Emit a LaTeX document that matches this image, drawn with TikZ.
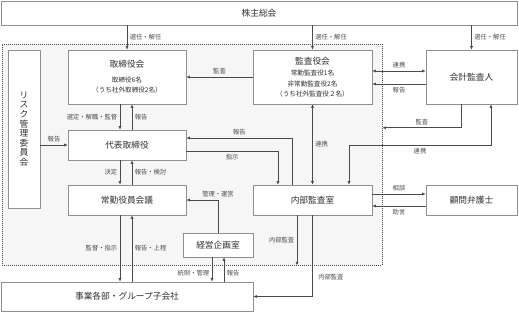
\documentclass[tikz,border=0pt]{standalone}
\usepackage{fontspec}
\setmainfont{Noto Sans CJK JP}
\usepackage{xcolor}
\usepackage{tikz}
\usetikzlibrary{arrows.meta, positioning, calc}

\definecolor{linegray}{HTML}{4A4A4A}
\definecolor{boxgray}{HTML}{8F8F8F}
\definecolor{textgray}{HTML}{2E2E2E}
\definecolor{zonegray}{HTML}{F6F6F6}

\begin{document}
\begin{tikzpicture}[
    x=1pt, y=-1pt,
    box/.style={rectangle, draw=boxgray, line width=0.6pt, fill=white, text=textgray, align=center, inner sep=0pt, font=\fontsize{8.7}{10}\selectfont},
    subbox/.style={box, font=\fontsize{6.6}{10.5}\selectfont},
    zone/.style={rectangle, draw=linegray, line width=0.8pt, dash pattern=on 1pt off 1pt, fill=zonegray},
    arr/.style={draw=linegray, line width=0.6pt, -{Latex[length=3.5pt,width=3pt]}},
    arrboth/.style={draw=linegray, line width=0.6pt, {Latex[length=3.5pt,width=3pt]}-{Latex[length=3.5pt,width=3pt]}},
    lbl/.style={font=\fontsize{6.3}{7}\selectfont, text=textgray!85, inner sep=2.5pt}
]
\fill[white] (0,0) rectangle (519,312);
\useasboundingbox (0,0) rectangle (519,312);

% company area
\node[zone, minimum width=380pt, minimum height=221pt] (company) at (192,154.5) {};

% boxes
\node[box, minimum width=516pt, minimum height=24pt] (share) at (259,13) {株主総会};
\node[subbox, minimum width=118pt, minimum height=54pt] (board) at (127,77)
    {{\fontsize{8.7}{10}\selectfont 取締役会}\\[4pt]取締役6名\\（うち社外取締役2名）};
\node[subbox, minimum width=119pt, minimum height=54pt] (audit) at (312.5,77)
    {{\fontsize{8.7}{10}\selectfont 監査役会}\\[1pt]常勤監査役1名\\非常勤監査役2名\\（うち社外監査役２名）};
\node[box, minimum width=91pt, minimum height=54pt] (acct) at (471.5,77) {会計監査人};
\node[box, minimum width=32pt, minimum height=158pt, font=\fontsize{8.7}{9.6}\selectfont] (risk) at (24,129)
    {リ\\ス\\ク\\管\\理\\委\\員\\会};
\node[box, minimum width=118pt, minimum height=30pt] (ceo) at (127,145) {代表取締役};
\node[box, minimum width=118pt, minimum height=30pt] (exec) at (127,200) {常勤役員会議};
\node[box, minimum width=119pt, minimum height=30pt] (inaud) at (312.5,200) {内部監査室};
\node[box, minimum width=91pt, minimum height=30pt] (lawyer) at (471.5,200) {顧問弁護士};
\node[box, minimum width=70pt, minimum height=24pt] (plan) at (218,245) {経営企画室};
\node[box, minimum width=252pt, minimum height=29pt] (biz) at (127,296.5) {事業各部・グループ子会社};

% shareholders
\draw[arr] (share.south -| board.north) -- (board.north) node[lbl, midway, right] {選任・解任};
\draw[arr] (share.south -| audit.north) -- (audit.north) node[lbl, midway, right] {選任・解任};
\draw[arr] (share.south -| acct.north) -- (acct.north) node[lbl, midway, right] {選任・解任};

% audit board
\draw[arr] (audit.west) -- (board.east) node[lbl, midway, above] {監査};
\draw[arrboth] ([yshift=6pt]audit.east) -- ([yshift=6pt]acct.west) node[lbl, midway, above] {連携};
\draw[arr] ([yshift=-7pt]acct.west) -- ([yshift=-7pt]audit.east) node[lbl, midway, below] {報告};
\draw[arrboth] (audit.south) -- (inaud.north) node[lbl, midway, right] {連携};

% board and ceo
\draw[arr] ([xshift=-7pt]board.south) -- ([xshift=-7pt]ceo.north) node[lbl, midway, left] {選定・解職・監督};
\draw[arr] ([xshift=5pt]ceo.north) -- ([xshift=5pt]board.south) node[lbl, midway, right] {報告};
\draw[arr] (risk.east |- ceo.west) -- (ceo.west) node[lbl, midway, above] {報告};

% ceo and internal audit
\draw[arr] ([xshift=-20pt]inaud.north) |- ([yshift=7pt]ceo.east) node[lbl, pos=0.75, above] {報告};
\draw[arr] ([yshift=-6pt]ceo.east) -| ([xshift=-34.5pt]inaud.north) node[lbl, pos=0.25, below] {指示};

% accounting auditor
\draw[arr] ([xshift=-10pt]acct.south) |- ([yshift=2pt]ceo.north -| company.east) node[lbl, pos=0.75, above] {監査};
\draw[arrboth] ([xshift=36.5pt]inaud.north) -- ([xshift=36.5pt]inaud.north |- ceo.east) -| ([xshift=19.5pt]acct.south) node[lbl, pos=0.25, below] {連携};

% ceo and executive meeting
\draw[arr] ([xshift=-7pt]ceo.south) -- ([xshift=-7pt]exec.north) node[lbl, midway, left] {決定};
\draw[arr] ([xshift=5pt]exec.north) -- ([xshift=5pt]ceo.south) node[lbl, midway, right] {報告・検討};

% planning
\draw[arr] (plan.north) |- (exec.east) node[lbl, pos=0.5, above] {管理・運営};
\draw[arr] ([xshift=-6pt]plan.south) -- ([xshift=-6pt]plan.south |- biz.north) node[lbl, pos=0.64, left] {統制・管理};
\draw[arr] ([xshift=6pt]plan.south |- biz.north) -- ([xshift=6pt]plan.south) node[lbl, pos=0.36, right] {報告};

% executive meeting and business units
\draw[arr] ([xshift=-7pt]exec.south) -- ([xshift=-7pt]biz.north -| exec.south) node[lbl, midway, left] {監督・指示};
\draw[arr] ([xshift=5pt]biz.north -| exec.south) -- ([xshift=5pt]exec.south) node[lbl, midway, right] {報告・上程};

% internal audit
\draw[arr] ([xshift=-15.5pt]inaud.south) -- ([xshift=-15.5pt]inaud.south |- company.south) node[lbl, midway, left] {内部監査};
\draw[arr] (inaud.south) |- (biz.east) node[lbl, pos=0.38, right=3pt] {内部監査};
\draw[arr] ([yshift=6pt]inaud.east) -- ([yshift=6pt]lawyer.west) node[lbl, midway, above] {相談};
\draw[arr] ([yshift=-6pt]lawyer.west) -- ([yshift=-6pt]inaud.east) node[lbl, midway, below] {助言};

\end{tikzpicture}
\end{document}
